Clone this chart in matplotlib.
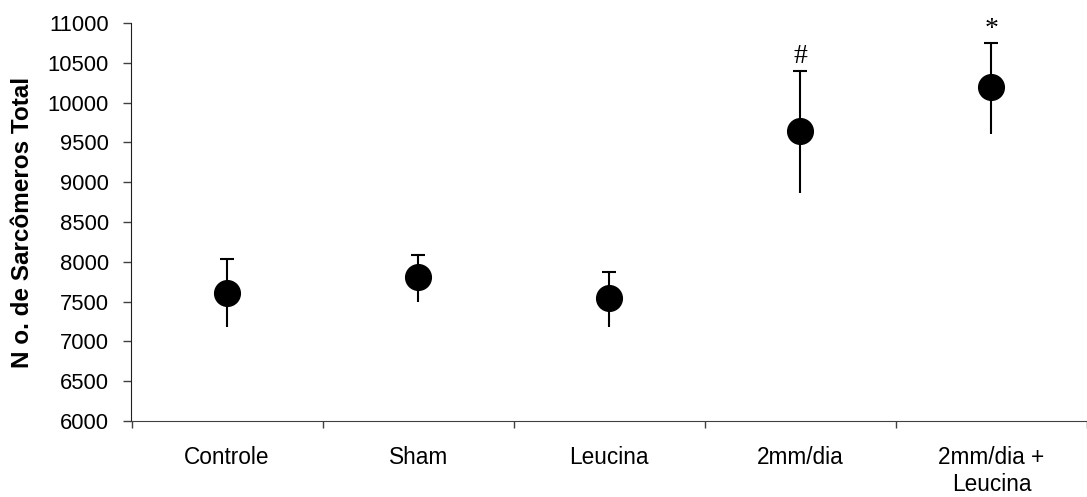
import matplotlib.pyplot as plt
import numpy as np

plt.rcParams['font.family'] = ['Liberation Sans', 'DejaVu Sans']

# Data
groups = ['Controle', 'Sham', 'Leucina', '2mm/dia', '2mm/dia +\nLeucina']
means = [7610, 7815, 7540, 9645, 10200]
upper = [8040, 8085, 7875, 10400, 10745]
lower = [7175, 7500, 7180, 8865, 9605]
marks = ['', '', '', '#', '*']

x = np.arange(len(groups))
means = np.array(means)
err_up = np.array(upper) - means
err_lo = means - np.array(lower)

fig = plt.figure(figsize=(10.87, 4.97), dpi=100)
ax = fig.add_axes([0.1205, 0.153, 0.8795, 0.8007])

# upper whisker with cap, lower whisker without cap
ax.errorbar(x, means, yerr=[np.zeros_like(err_up), err_up], fmt='none',
            ecolor='black', elinewidth=1.5, capsize=5.3, capthick=1.5, zorder=2)
ax.errorbar(x, means, yerr=[err_lo, np.zeros_like(err_lo)], fmt='none',
            ecolor='black', elinewidth=1.5, capsize=0, zorder=2)
ax.plot(x, means, 'o', color='black', markersize=18.5, zorder=3)

for xi, top, m in zip(x, upper, marks):
    if m:
        ax.annotate(m, (xi, top), xytext=(0, 1), textcoords='offset points',
                    ha='center', va='bottom', fontsize=20,
                    family=['Liberation Serif', 'DejaVu Serif'])

ax.set_ylim(6000, 11000)
ax.set_yticks(np.arange(6000, 11001, 500))
ax.set_xlim(-0.503, 4.457)

# category boundaries as ticks, labels at centers
ax.set_xticks(np.arange(-0.5, 4.6, 1.0))
ax.set_xticklabels([])
ax.set_xticks(x, minor=True)
ax.set_xticklabels(groups, minor=True, linespacing=1.25)
ax.tick_params(axis='x', which='major', direction='out', length=5, width=1, color='#404040')
ax.tick_params(axis='x', which='minor', length=0, pad=18, labelsize=16.3)
ax.tick_params(axis='y', direction='out', length=6, width=1, color='#404040', pad=10, labelsize=15.8)

for s in ['top', 'right']:
    ax.spines[s].set_visible(False)
ax.spines['left'].set_color('#202020')
ax.spines['bottom'].set_color('#404040')

ax.set_ylabel('N o. de Sarcômeros Total', fontsize=17.5, fontweight='bold', labelpad=10)

fig.savefig('out.png', dpi=100)
